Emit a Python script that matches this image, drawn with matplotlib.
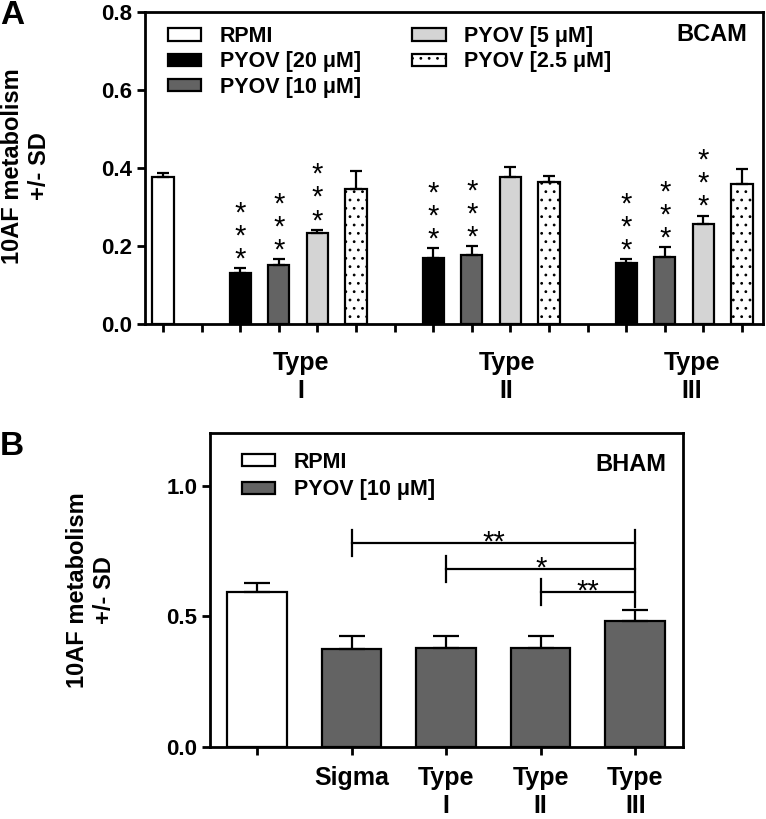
import matplotlib.pyplot as plt
from matplotlib.patches import Patch
import numpy as np

plt.rcParams['font.family'] = ['Liberation Sans', 'DejaVu Sans']
plt.rcParams['font.weight'] = 'bold'
plt.rcParams['hatch.linewidth'] = 0.8
plt.rcParams['hatch.color'] = '#444444'

# ---- panel A : BCAM ----
groups_a = ["Type\nI", "Type\nII", "Type\nIII"]
series_a = ["PYOV [20 μM]", "PYOV [10 μM]", "PYOV [5 μM]", "PYOV [2.5 μM]"]
rpmi_a = 0.377
rpmi_a_sd = 0.012
# rows = concentration, columns = Type I, II, III
vals_a = [[0.131, 0.169, 0.156],
          [0.151, 0.177, 0.172],
          [0.233, 0.377, 0.256],
          [0.346, 0.364, 0.361]]
sd_a = [[0.013, 0.026, 0.011],
        [0.016, 0.023, 0.025],
        [0.010, 0.026, 0.023],
        [0.046, 0.015, 0.038]]
stars_a = [["***", "***", "***"],
           ["***", "***", "***"],
           ["***", "", "***"],
           ["", "", ""]]

# ---- panel B : BHAM ----
cats_b = ["", "Sigma", "Type\nI", "Type\nII", "Type\nIII"]
vals_b = [0.592, 0.374, 0.378, 0.380, 0.481]
sd_b = [0.034, 0.050, 0.046, 0.046, 0.042]
brackets_b = [(1, 4, 0.779, "**"), (2, 4, 0.680, "*"), (3, 4, 0.592, "**")]

colors_a = ['black', '#636363', '#d4d4d4', 'white']
hatches_a = [None, None, None, '..']
lw = 1.6

fig = plt.figure(figsize=(7.66, 8.19), dpi=100)

# ================= A =================
ax = fig.add_axes([0.189, 0.604, 0.807, 0.381])
ekw = dict(elinewidth=lw, capthick=lw, ecolor='black')

ax.bar(0, rpmi_a, width=0.55, color='white', edgecolor='black', linewidth=lw,
       yerr=[[0], [rpmi_a_sd]], capsize=4, error_kw=ekw, label="RPMI", zorder=2)
for s in range(4):
    xs = [2 + 5 * g + s for g in range(3)]
    ax.bar(xs, vals_a[s], width=0.55, color=colors_a[s], edgecolor='black',
           linewidth=lw, hatch=hatches_a[s], yerr=[[0] * 3, sd_a[s]],
           capsize=4, error_kw=ekw, label=series_a[s], zorder=2)
    for g in range(3):
        if stars_a[s][g]:
            # stack the stars vertically
            ax.annotate("\n".join(stars_a[s][g]),
                        xy=(xs[g], vals_a[s][g] + sd_a[s][g]),
                        xytext=(0, -4), textcoords='offset points',
                        ha='center', va='bottom', fontsize=21,
                        fontweight='normal', linespacing=0.78)

ax.set_xlim(-0.47, 15.54)
ax.set_ylim(0, 0.8)
ax.set_xticks(np.arange(16))
ax.set_xticklabels([])
ax.set_yticks([0, 0.2, 0.4, 0.6, 0.8])
ax.set_yticklabels(["0.0", "0.2", "0.4", "0.6", "0.8"])
ax.tick_params(axis='both', width=2, length=6, labelsize=16, pad=3)
for sp in ax.spines.values():
    sp.set_linewidth(2)

for pos, lab in zip([3.57, 8.9, 13.7], groups_a):
    ax.annotate(lab, xy=(pos, 0), xycoords=('data', 'axes fraction'),
                xytext=(0, -19), textcoords='offset points',
                ha='center', va='top', fontsize=18, annotation_clip=False)

ax.text(0.975, 0.93, "BCAM", transform=ax.transAxes, ha='right', va='center',
        fontsize=17)
ax.legend(ncol=2, loc='upper left', bbox_to_anchor=(0.02, 0.99), frameon=False,
          fontsize=15.5, handlelength=1.55, handleheight=0.5, handletextpad=0.85,
          labelspacing=0.2, columnspacing=2.4, borderpad=0)

fig.text(26 / 766, 1 - 166 / 819, "10AF metabolism\n+/- SD", rotation=90,
         ha='center', va='center', fontsize=17, multialignment='center')
fig.text(0.0, 1 - 15 / 819, "A", fontsize=24, ha='left', va='center')

# ================= B =================
bx = fig.add_axes([0.274, 0.0879, 0.617, 0.383])
xb = np.arange(len(vals_b))
bcol = ['white'] + ['#636363'] * 4
bx.bar(xb, vals_b, width=0.63, color=bcol, edgecolor='black', linewidth=lw,
       yerr=[[0] * len(vals_b), sd_b], capsize=9.5, error_kw=ekw, zorder=2)

for x0, x1, y, lab in brackets_b:
    bx.plot([x0, x1], [y, y], color='black', lw=lw)
    bx.plot([x0, x0], [y - 0.05, y + 0.05], color='black', lw=lw)
    bx.annotate(lab, xy=((x0 + x1) / 2, y), xytext=(0, -5),
                textcoords='offset points', ha='center', va='baseline',
                fontsize=21, fontweight='normal')
bx.plot([4, 4], [0.534, 0.829], color='black', lw=lw)

bx.set_xlim(-0.5, 4.5)
bx.set_ylim(0, 1.2)
bx.set_xticks(xb)
bx.set_xticklabels(cats_b, fontsize=18)
bx.set_yticks([0, 0.5, 1.0])
bx.set_yticklabels(["0.0", "0.5", "1.0"])
bx.tick_params(axis='both', width=2, length=6, labelsize=16, pad=3)
bx.tick_params(axis='x', labelsize=18, pad=8)
for sp in bx.spines.values():
    sp.set_linewidth(2)

bx.text(0.965, 0.9, "BHAM", transform=bx.transAxes, ha='right', va='center',
        fontsize=17)
hb = [Patch(facecolor='white', edgecolor='black', linewidth=lw),
      Patch(facecolor='#636363', edgecolor='black', linewidth=lw)]
bx.legend(hb, ["RPMI", "PYOV [10 μM]"], loc='upper left',
          bbox_to_anchor=(0.045, 0.975), frameon=False, fontsize=15.5,
          handlelength=1.55, handleheight=0.5, handletextpad=0.85,
          labelspacing=0.3, borderpad=0)

fig.text(91 / 766, 1 - 590 / 819, "10AF metabolism\n+/- SD", rotation=90,
         ha='center', va='center', fontsize=17, multialignment='center')
fig.text(0.0, 1 - 447 / 819, "B", fontsize=24, ha='left', va='center')

fig.savefig("out.png", dpi=100)
